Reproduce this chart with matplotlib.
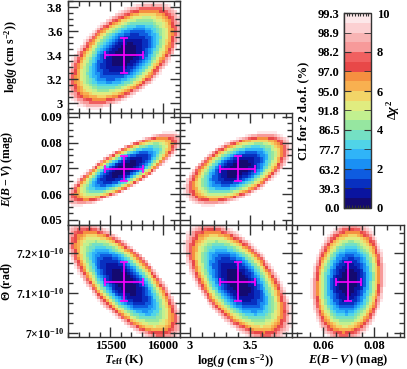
import numpy as np
import matplotlib
matplotlib.use('Agg')
import matplotlib.pyplot as plt
from matplotlib.colors import ListedColormap, BoundaryNorm
from matplotlib.ticker import MultipleLocator, FixedLocator, FuncFormatter

plt.rcParams['font.family'] = ['Liberation Serif', 'DejaVu Serif']
plt.rcParams['font.weight'] = 'bold'
plt.rcParams['axes.labelweight'] = 'bold'
plt.rcParams['mathtext.fontset'] = 'custom'
plt.rcParams['mathtext.rm'] = 'Liberation Serif:bold'
plt.rcParams['mathtext.it'] = 'Liberation Serif:italic:bold'
plt.rcParams['mathtext.bf'] = 'Liberation Serif:bold'
plt.rcParams['axes.linewidth'] = 1.0

# best-fit values (theta in units of 1e-10 rad)
param_names = ['teff', 'logg', 'ebv', 'theta']
best = [15630, 3.40, 0.0698, 7.128]
err = [180, 0.145, 0.0049, 0.049]
sigma = [175, 0.142, 0.0046, 0.048]
limits = [(15100, 16160), (2.92, 3.85), (0.048, 0.0915), (6.99, 7.27)]

# panel pairs (x param, y param) and their correlations
pairs = [(0, 1), (0, 2), (1, 2), (0, 3), (1, 3), (2, 3)]
rho = [0.52, 0.8, 0.55, -0.72, -0.58, 0.12]

labels = [r'$T_{\rm eff}$ (K)', r'log($g$ (cm s$^{-2}$))',
          r'$E(B-V)$ (mag)', r'$\Theta$ (rad)']
ylabel_x = [None, -0.43, -0.47, -0.47]
major_step = [500, 0.5, 0.02, 0.1]
minor_step = [100, 0.1, 0.005, 0.025]
ymajor_step = [None, 0.2, 0.01, 0.1]
yminor_step = [None, 0.05, 0.0025, 0.025]

cl_labels = ['0.0', '39.3', '63.2', '77.7', '86.5', '91.8',
             '95.0', '97.0', '98.2', '98.9', '99.3']

band_colors = ['#140a70', '#0a14a0', '#0830c0', '#0e5ce0', '#1a90f4',
               '#30b4f8', '#50d4e8', '#74e0c4', '#96e6a0', '#c2f090',
               '#e0ec80', '#f2d568', '#f8b050', '#f59040', '#e84848',
               '#f06060', '#f79a9a', '#f8b4b4', '#fcd0d2', '#fde8ea']

cmap = ListedColormap(band_colors)
cmap.set_over('white')
norm = BoundaryNorm(np.linspace(0, 10, 21), cmap.N)

W, H = 407, 369
fig = plt.figure(figsize=(W / 100, H / 100), dpi=100)

col_x = [68, 180, 292]
row_y = [1, 113, 225]
size = 112
fs = 9


def panel(col, row):
    return fig.add_axes([col_x[col] / W, 1 - (row_y[row] + size) / H, size / W, size / H])


def fmt_plain(v, pos):
    return '%g' % round(v, 4)


def fmt_theta(v, pos):
    return r'$%g{\times}10^{-10}$' % round(v, 3)


grid_n = 38
positions = {(0, 1): (0, 0), (0, 2): (0, 1), (1, 2): (1, 1),
             (0, 3): (0, 2), (1, 3): (1, 2), (2, 3): (2, 2)}

for (i, j), r in zip(pairs, rho):
    col, row = positions[(i, j)]
    ax = panel(col, row)
    xe = np.linspace(limits[i][0], limits[i][1], grid_n + 1)
    ye = np.linspace(limits[j][0], limits[j][1], grid_n + 1)
    xc = 0.5 * (xe[1:] + xe[:-1])
    yc = 0.5 * (ye[1:] + ye[:-1])
    X, Y = np.meshgrid(xc, yc)
    u = (X - best[i]) / sigma[i]
    v = (Y - best[j]) / sigma[j]
    dchi2 = (u ** 2 - 2 * r * u * v + v ** 2) / (1 - r ** 2)
    mesh = ax.pcolormesh(xe, ye, dchi2, cmap=cmap, norm=norm, shading='flat')
    ax.errorbar(best[i], best[j], xerr=err[i], yerr=err[j], color='#ff00ff',
                lw=1.2, capsize=3, capthick=1.2)
    ax.set_xlim(limits[i])
    ax.set_ylim(limits[j])

    ax.xaxis.set_major_locator(MultipleLocator(major_step[i]))
    ax.xaxis.set_minor_locator(MultipleLocator(minor_step[i]))
    ax.yaxis.set_major_locator(MultipleLocator(ymajor_step[j]))
    ax.yaxis.set_minor_locator(MultipleLocator(yminor_step[j]))
    ax.tick_params(which='both', direction='in', top=True, right=True,
                   labelsize=fs, color='#333333', width=1.0)
    ax.tick_params(which='major', length=7, pad=4)
    ax.tick_params(axis='x', which='major', pad=2.5)
    ax.tick_params(which='minor', length=3.5)
    ax.xaxis.set_major_formatter(FuncFormatter(fmt_plain))
    if j == 3:
        ax.yaxis.set_major_formatter(FuncFormatter(fmt_theta))
        ax.tick_params(axis='y', which='major', labelsize=8.5, pad=3)
    else:
        ax.yaxis.set_major_formatter(FuncFormatter(fmt_plain))
    for s in ax.spines.values():
        s.set_color('#333333')

    if row == 2:
        ax.set_xlabel(labels[i], fontsize=fs, labelpad=0)
    else:
        ax.tick_params(labelbottom=False)
    if col == 0:
        ax.set_ylabel(labels[j], fontsize=8.5)
        ax.yaxis.set_label_coords(ylabel_x[j], 0.5)
    else:
        ax.tick_params(labelleft=False)

# colour bar
cax = fig.add_axes([344 / W, 1 - 208 / H, 27 / W, 195 / H])
cb = fig.colorbar(mesh, cax=cax, extend='neither')
cb.outline.set_edgecolor('#333333')
cax.yaxis.set_major_locator(FixedLocator([0, 2, 4, 6, 8, 10]))
cax.yaxis.set_minor_locator(FixedLocator([1, 3, 5, 7, 9]))
cax.tick_params(which='both', direction='in', left=True, right=True,
                labelsize=fs, color='#333333')
cax.tick_params(which='major', length=5, pad=4)
cax.tick_params(which='minor', length=5)
cax.xaxis.set_ticks_position('both')
cax.set_xticks(np.linspace(0.1, 0.9, 9))
cax.tick_params(axis='x', which='major', direction='in', length=2.5,
                labelbottom=False, top=True, bottom=True, color='#333333')
fig.text(393 / W, 1 - 110 / H, r'$\Delta\chi^2$', fontsize=fs,
         rotation=90, ha='center', va='center')
left = cax.secondary_yaxis('left')
left.set_yticks(range(11))
left.set_yticklabels(cl_labels)
left.tick_params(direction='in', length=5, labelsize=fs, color='#333333', pad=3)
left.set_ylabel('CL for 2 d.o.f. (%)', fontsize=fs, labelpad=6)

fig.savefig('out.png', dpi=100)
